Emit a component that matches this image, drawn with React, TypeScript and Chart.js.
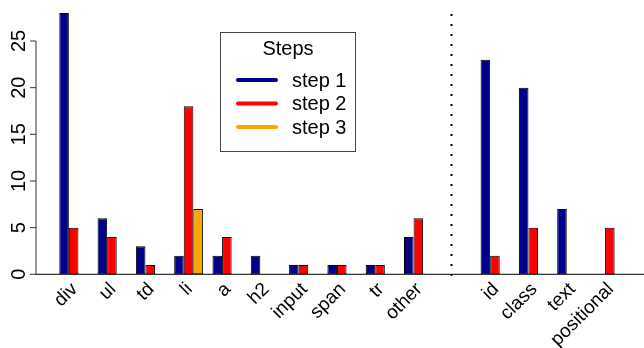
import React, { useEffect, useRef } from "react";
import { Chart, registerables } from "chart.js";

Chart.register(...registerables);

const categories = ["div", "ul", "td", "li", "a", "h2", "input", "span", "tr", "other", "", "id", "class", "text", "positional"];
const step1 = [28, 6, 3, 2, 2, 2, 1, 1, 1, 4, null, 23, 20, 7, 0];
const step2 = [5, 4, 1, 18, 4, 0, 1, 1, 1, 6, null, 2, 5, 0, 5];
const step3 = [0, 0, 0, 7, 0, 0, 0, 0, 0, 0, null, 0, 0, 0, 0];
const yTicks = [0, 5, 10, 15, 20, 25];
const seriesNames = ["step 1", "step 2", "step 3"];
const seriesColors = ["#00008B", "#FF0000", "#FFA500"];
const separatorAt = 9.875;
const legendTitle = "Steps";

const FONT = "'Liberation Sans', Arial, Helvetica, sans-serif";

const overlay = {
  id: "rstyle",
  afterDraw(chart: any) {
    const ctx = chart.ctx as CanvasRenderingContext2D;
    const xs = chart.scales.x;
    const ys = chart.scales.y;
    const y0 = ys.getPixelForValue(0);
    ctx.save();
    // baseline
    ctx.strokeStyle = "#000";
    ctx.lineWidth = 1;
    ctx.beginPath();
    ctx.moveTo(36, y0);
    ctx.lineTo(644, y0);
    ctx.stroke();
    // y axis
    ctx.strokeStyle = "#333";
    ctx.beginPath();
    ctx.moveTo(36, ys.getPixelForValue(yTicks[yTicks.length - 1]));
    ctx.lineTo(36, y0);
    ctx.stroke();
    ctx.fillStyle = "#000";
    ctx.font = `20px ${FONT}`;
    ctx.textAlign = "center";
    ctx.textBaseline = "middle";
    for (const t of yTicks) {
      const py = ys.getPixelForValue(t);
      ctx.beginPath();
      ctx.moveTo(30, py);
      ctx.lineTo(36, py);
      ctx.stroke();
      ctx.save();
      ctx.translate(18, py);
      ctx.rotate(-Math.PI / 2);
      ctx.fillText(String(t), 0, 1);
      ctx.restore();
    }
    // x labels, rotated 45 degrees
    ctx.font = `19px ${FONT}`;
    ctx.textAlign = "right";
    ctx.textBaseline = "middle";
    categories.forEach((c, i) => {
      if (!c) return;
      const px = xs.getPixelForValue(i);
      ctx.save();
      ctx.translate(px + 1, y0 + 12);
      ctx.rotate(-Math.PI / 4);
      ctx.fillText(c, 0, 0);
      ctx.restore();
    });
    // separator
    const sx = Math.round(xs.getPixelForValue(separatorAt)) - 0.5;
    ctx.strokeStyle = "#000";
    ctx.lineWidth = 2;
    ctx.setLineDash([2, 8]);
    ctx.beginPath();
    ctx.moveTo(sx, 14);
    ctx.lineTo(sx, 280);
    ctx.stroke();
    ctx.setLineDash([]);
    // legend
    ctx.lineWidth = 1;
    ctx.strokeStyle = "#444";
    ctx.fillStyle = "#fff";
    ctx.fillRect(220.5, 32.5, 135, 119);
    ctx.strokeRect(220.5, 32.5, 135, 119);
    ctx.fillStyle = "#000";
    ctx.font = `20px ${FONT}`;
    ctx.textAlign = "center";
    ctx.fillText(legendTitle, 288, 49);
    ctx.textAlign = "left";
    const ly = [80, 103.5, 127];
    seriesNames.forEach((n, i) => {
      ctx.strokeStyle = seriesColors[i];
      ctx.lineWidth = 4;
      ctx.lineCap = "round";
      ctx.beginPath();
      ctx.moveTo(238, ly[i]);
      ctx.lineTo(276, ly[i]);
      ctx.stroke();
      ctx.fillStyle = "#000";
      ctx.fillText(n, 292, ly[i] + 1);
    });
    ctx.restore();
  },
};

export default function App() {
  const ref = useRef<HTMLCanvasElement>(null);
  useEffect(() => {
    const mk = (label: string, data: any[], color: string) => ({
      label,
      data,
      backgroundColor: color,
      borderColor: "#000",
      borderWidth: 1,
      borderSkipped: false,
      categoryPercentage: 0.75,
      barPercentage: 1,
    });
    const chart = new Chart(ref.current as HTMLCanvasElement, {
      type: "bar",
      data: {
        labels: categories,
        datasets: [
          mk(seriesNames[0], step1, seriesColors[0]),
          mk(seriesNames[1], step2, seriesColors[1]),
          mk(seriesNames[2], step3, seriesColors[2]),
        ],
      },
      options: {
        animation: false,
        responsive: false,
        devicePixelRatio: 1,
        layout: { padding: { left: 54.5, right: 15, top: 3.67, bottom: 73.7 } },
        plugins: { legend: { display: false }, tooltip: { enabled: false } },
        scales: {
          x: { display: false, offset: true, grid: { display: false } },
          y: { display: false, min: 0, max: 29, grid: { display: false } },
        },
      },
      plugins: [overlay],
    });
    return () => chart.destroy();
  }, []);
  return (
    <div style={{ position: "fixed", left: 0, top: 0, width: 644, height: 348, background: "#fff" }}>
      <canvas ref={ref} width={644} height={348} />
    </div>
  );
}
